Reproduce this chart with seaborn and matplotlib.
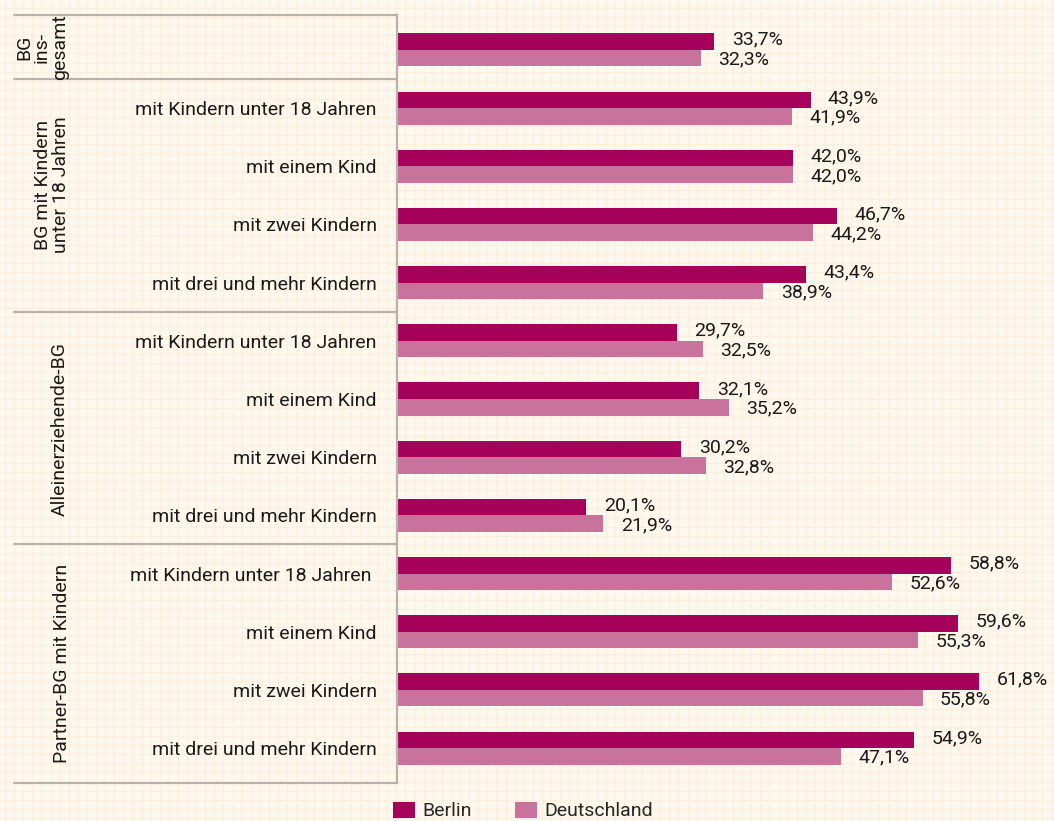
import numpy as np
import pandas as pd
import seaborn as sns
import matplotlib.pyplot as plt
import matplotlib.transforms as mtransforms
from matplotlib.patches import Patch

# Data: shares per household type, Berlin vs. Germany
row_labels = [
    "",
    "mit Kindern unter 18 Jahren", "mit einem Kind", "mit zwei Kindern", "mit drei und mehr Kindern",
    "mit Kindern unter 18 Jahren", "mit einem Kind", "mit zwei Kindern", "mit drei und mehr Kindern",
    "mit Kindern unter 18 Jahren ", "mit einem Kind", "mit zwei Kindern", "mit drei und mehr Kindern",
]
groups = ["BG\nins-\ngesamt", "BG mit Kindern\nunter 18 Jahren", "Alleinerziehende-BG", "Partner-BG mit Kindern"]
group_sizes = [1, 4, 4, 4]
berlin = [33.7, 43.9, 42.0, 46.7, 43.4, 29.7, 32.1, 30.2, 20.1, 58.8, 59.6, 61.8, 54.9]
deutschland = [32.3, 41.9, 42.0, 44.2, 38.9, 32.5, 35.2, 32.8, 21.9, 52.6, 55.3, 55.8, 47.1]
series = ["Berlin", "Deutschland"]
colors = ["#a5005a", "#c8729c"]

keys = [f"r{i:02d}" for i in range(len(row_labels))]
df = pd.DataFrame({
    "key": keys * 2,
    "value": berlin + deutschland,
    "region": [series[0]] * len(keys) + [series[1]] * len(keys),
})

sns.set_theme(style="white")
plt.rcParams["font.family"] = ["Roboto", "DejaVu Sans"]
fs = 14
fs_val = 14

W, H = 1054, 821
fig = plt.figure(figsize=(W / 100, H / 100), dpi=100)
fig.patch.set_facecolor("#fef8ef")

# graph-paper background
bg = fig.add_axes([0, 0, 1, 1], zorder=-5)
bg.set_xlim(0, W)
bg.set_ylim(H, 0)
bg.axis("off")
step = 9.1
for gx in np.arange(5, W, step):
    bg.axvline(gx, color="#fcefdd", lw=1.0)
for gy in np.arange(8, H, step):
    bg.axhline(gy, color="#fcefdd", lw=1.0)

x0, x1 = 397, 1054
y_top, y_bot = 15, 783
ax = fig.add_axes([x0 / W, 1 - y_bot / H, (x1 - x0) / W, (y_bot - y_top) / H])
ax.patch.set_alpha(0)

sns.barplot(data=df, x="value", y="key", hue="region", order=keys, hue_order=series,
            palette=colors, orient="h", width=0.57, gap=0, saturation=1,
            edgecolor="none", linewidth=0, legend=False, ax=ax)

n = len(keys)
ax.set_xlim(0, 69.75)
ax.set_ylim(n - 0.4, -0.6)
ax.set_xlabel("")
ax.set_ylabel("")
ax.set_xticks([])
ax.set_yticks(range(n))
ax.set_yticklabels(row_labels, fontsize=fs, color="#1a1a1a")
ax.tick_params(axis="y", length=0, pad=14.5)
for s in ["top", "right", "bottom"]:
    ax.spines[s].set_visible(False)
ax.spines["left"].set_color("#b9b1ab")
ax.spines["left"].set_linewidth(1.6)

# value labels (Berlin nudged up, Deutschland nudged down)
for container, dy in zip(ax.containers, [1.3, -1.0]):
    for bar in container:
        v = bar.get_width()
        ax.annotate(f"{v:.1f}%".replace(".", ","),
                    xy=(v, bar.get_y() + bar.get_height() / 2),
                    xytext=(12.5, dy), textcoords="offset points",
                    va="center", ha="left", fontsize=fs_val, color="#1a1a1a")

# group separators and group titles in the left panel
trans = mtransforms.blended_transform_factory(ax.transAxes, ax.transData)
left_frac = (14 - x0) / (x1 - x0)
cum = np.cumsum(group_sizes)
bounds = [-0.6] + [c - 0.5 for c in cum[:-1]] + [n - 0.4]
for b in bounds:
    ax.plot([left_frac, 0], [b, b], transform=trans, color="#b9b1ab", lw=1.6, clip_on=False)

group_pos = [(42, 47), (52, 185), (60, 429), (62, 663)]
for g, (gx, gy) in zip(groups, group_pos):
    fig.text(gx / W, 1 - gy / H, g, rotation=90, ha="center", va="center",
             fontsize=fs, color="#1a1a1a", linespacing=1.0, multialignment="center")

# legend
handles = [Patch(facecolor=c, edgecolor="none") for c in colors]
fig.legend(handles, series, loc="center left", bbox_to_anchor=(x0 / W - 0.004, 1 - 811 / H),
           ncol=2, frameon=False, fontsize=fs, handlelength=1.13, handleheight=0.93,
           handletextpad=0.4, columnspacing=2.2, borderaxespad=0, borderpad=0)

fig.savefig("out.png", dpi=100, facecolor=fig.get_facecolor())
